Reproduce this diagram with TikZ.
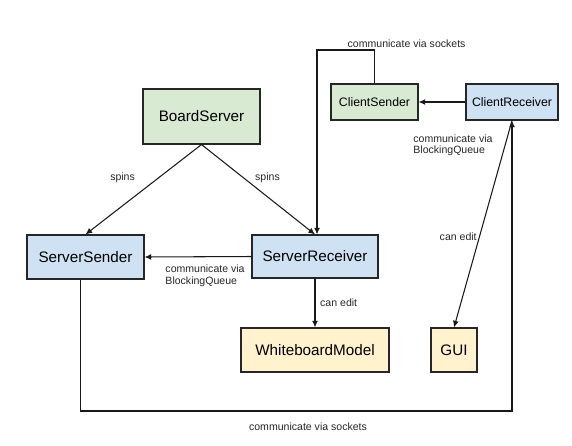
\documentclass[tikz,border=0pt]{standalone}
\usepackage{fontspec}
\setmainfont{Liberation Sans}
\usetikzlibrary{arrows.meta}

\definecolor{boxgreen}{HTML}{D9EAD3}
\definecolor{boxblue}{HTML}{CFE2F3}
\definecolor{boxyellow}{HTML}{FFF2CC}

\tikzset{
	box/.style={draw=black!85, line width=0.9pt, inner sep=2pt, font=\fontsize{13}{15}\selectfont},
	greenbox/.style={box, fill=boxgreen},
	bluebox/.style={box, fill=boxblue},
	yellowbox/.style={box, fill=boxyellow},
	lbl/.style={font=\fontsize{9}{10}\selectfont, text=black!85, inner sep=1pt, align=left},
	wire/.style={line width=0.9pt, black!90},
	arr/.style={wire, -{Latex[length=2mm,width=1.8mm]}},
}

\begin{document}
\begin{tikzpicture}[x=0.03cm, y=-0.03cm]
	\useasboundingbox (0,0) rectangle (572,445);
	% server side
	\node[greenbox, minimum width=3.51cm, minimum height=1.65cm] (board) at (201.5,116.5) {BoardServer};
	\node[bluebox, minimum width=3.51cm, minimum height=1.32cm] (ssend) at (85.5,257) {ServerSender};
	\node[bluebox, minimum width=3.78cm, minimum height=1.29cm] (srecv) at (315,256.5) {ServerReceiver};
	\node[yellowbox, minimum width=4.44cm, minimum height=1.32cm] (model) at (315,350) {WhiteboardModel};
	% client side
	\node[greenbox, minimum width=2.61cm, minimum height=1.08cm, font=\fontsize{10.5}{12}\selectfont] (csend) at (374.5,102) {ClientSender};
	\node[bluebox, minimum width=2.76cm, minimum height=1.08cm, font=\fontsize{10.5}{12}\selectfont] (crecv) at (512,102) {ClientReceiver};
	\node[yellowbox, minimum width=1.38cm, minimum height=1.32cm] (gui) at (454,350) {GUI};

	% spins
	\draw[arr] (board.south) -- node[lbl, pos=0.37, left=0.66cm] {spins} (ssend.north);
	\draw[arr] (board.south) -- node[lbl, pos=0.37, right=0.3cm] {spins} (srecv.north);
	% queues
	\draw[arr] (srecv.west) -- node[lbl, pos=0.82, anchor=north west, yshift=-0.2cm] {communicate via\\BlockingQueue} (ssend.east);
	\draw[arr] (crecv.west) -- (csend.east);
	\node[lbl, anchor=north west] (cqlbl) at (412,133) {communicate via\\BlockingQueue};
	% editing
	\draw[arr] (srecv.south) -- node[lbl, right=3pt] {can edit} (model.north);
	\draw[arr] (crecv.south) -- node[lbl, pos=0.56, left=1pt] {can edit} (gui.north);
	% sockets
	\coordinate (top) at (346,50);
	\coordinate (bot) at (308,411);
	\draw[arr] (csend.north) |- (top) node[lbl, anchor=south west, yshift=1pt] {communicate via sockets} -| ([xshift=0.06cm]srecv.north);
	\draw[arr] ([xshift=-0.15cm]ssend.south) |- (bot) node[lbl, below=0.3cm] {communicate via sockets} -| (crecv.south);
\end{tikzpicture}
\end{document}
